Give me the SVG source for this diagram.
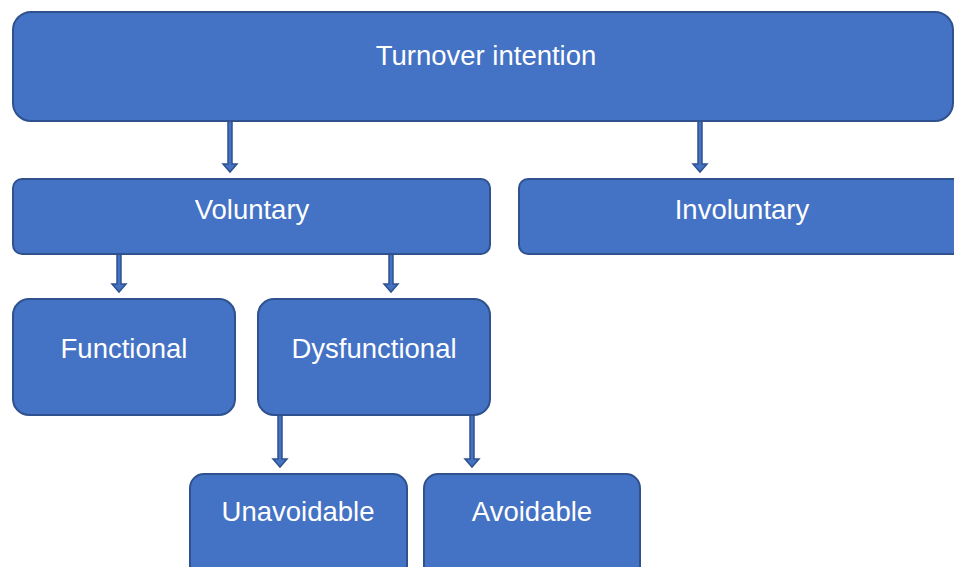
<svg xmlns="http://www.w3.org/2000/svg" width="954" height="567" viewBox="0 0 954 567">
<defs>
<style>
.box{fill:#4472C4;stroke:#2F528F;stroke-width:2}
.lbl{font-family:"Liberation Sans",Arial,sans-serif;font-size:27.5px;fill:#ffffff;text-anchor:middle}
.arr{fill:#4472C4;stroke:#2F528F;stroke-width:1.5}
</style>
</defs>
<rect width="954" height="567" fill="#ffffff"/>
<g id="connectors">
<path class="arr" d="M228,121 h4 v43 h5 l-7,8 l-7,-8 h5 z"/>
<path class="arr" d="M698,121 h4 v43 h5 l-7,8 l-7,-8 h5 z"/>
<path class="arr" d="M117,254 h4 v30 h5 l-7,8 l-7,-8 h5 z"/>
<path class="arr" d="M389,254 h4 v30 h5 l-7,8 l-7,-8 h5 z"/>
<path class="arr" d="M278,415 h4 v44 h5 l-7,8 l-7,-8 h5 z"/>
<path class="arr" d="M470,415 h4 v44 h5 l-7,8 l-7,-8 h5 z"/>
</g>
<g id="turnover">
<rect class="box" x="13" y="12" width="940" height="109" rx="18"/>
<text class="lbl" x="486" y="65">Turnover intention</text>
</g>
<g id="voluntary">
<rect class="box" x="13" y="179" width="477" height="75" rx="9"/>
<text class="lbl" x="252" y="219">Voluntary</text>
</g>
<g id="involuntary">
<rect class="box" x="519" y="179" width="445" height="75" rx="9"/>
<text class="lbl" x="742" y="219">Involuntary</text>
</g>
<g id="functional">
<rect class="box" x="13" y="299" width="222" height="116" rx="16"/>
<text class="lbl" x="124" y="358">Functional</text>
</g>
<g id="dysfunctional">
<rect class="box" x="258" y="299" width="232" height="116" rx="16"/>
<text class="lbl" x="374" y="358">Dysfunctional</text>
</g>
<g id="unavoidable">
<rect class="box" x="190" y="474" width="217" height="110" rx="14"/>
<text class="lbl" x="298" y="521">Unavoidable</text>
</g>
<g id="avoidable">
<rect class="box" x="424" y="474" width="216" height="110" rx="14"/>
<text class="lbl" x="532" y="521">Avoidable</text>
</g>
</svg>
